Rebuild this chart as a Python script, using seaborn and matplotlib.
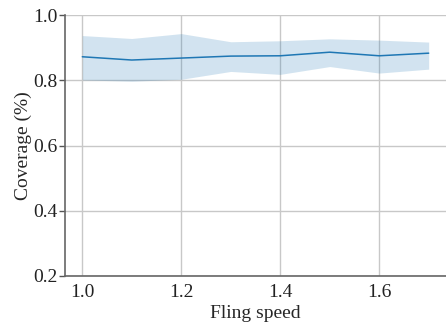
import matplotlib
matplotlib.use("Agg")
import matplotlib.pyplot as plt
import seaborn as sns
import pandas as pd

speed = [1.0, 1.1, 1.2, 1.3, 1.4, 1.5, 1.6, 1.7]
coverage_mean = [0.872, 0.862, 0.868, 0.874, 0.875, 0.886, 0.875, 0.883]
coverage_low = [0.801, 0.797, 0.803, 0.827, 0.818, 0.842, 0.822, 0.834]
coverage_high = [0.937, 0.928, 0.943, 0.918, 0.921, 0.927, 0.923, 0.917]

sns.set_theme(style="whitegrid")
plt.rcParams["font.family"] = ["Liberation Serif", "DejaVu Serif"]
plt.rcParams["font.size"] = 11

df = pd.DataFrame({"speed": speed, "mean": coverage_mean,
                   "low": coverage_low, "high": coverage_high})

fig = plt.figure(figsize=(4.46, 3.27), dpi=100)
ax = fig.add_axes([65 / 446, 51 / 327, 381 / 446, 261 / 327])
sns.lineplot(data=df, x="speed", y="mean", ax=ax, color="#1f77b4", linewidth=1.1)
ax.fill_between(df["speed"], df["low"], df["high"], color="#1f77b4", alpha=0.2, linewidth=0)

ax.set_ylim(0.2, 1.0)
ax.set_xlim(0.965, 1.735)
ax.set_xticks([1.0, 1.2, 1.4, 1.6])
ax.set_yticks([0.2, 0.4, 0.6, 0.8, 1.0])
ax.set_xlabel("Fling speed", fontsize=14, labelpad=3)
ax.set_ylabel("Coverage (%)", fontsize=14, labelpad=1)
ax.tick_params(axis="both", labelsize=14, colors="#222222")
ax.tick_params(axis="y", left=True, length=4, width=1, color="#555555", pad=1.5)
ax.tick_params(axis="x", bottom=False, length=0, pad=6)
for s in ["top", "right"]:
    ax.spines[s].set_visible(False)
for s in ["left", "bottom"]:
    ax.spines[s].set_color("#666666")
    ax.spines[s].set_linewidth(1.2)
ax.grid(True, color="#c8c8c8", linewidth=1)
ax.set_facecolor("white")

fig.savefig("out.png", dpi=100)
